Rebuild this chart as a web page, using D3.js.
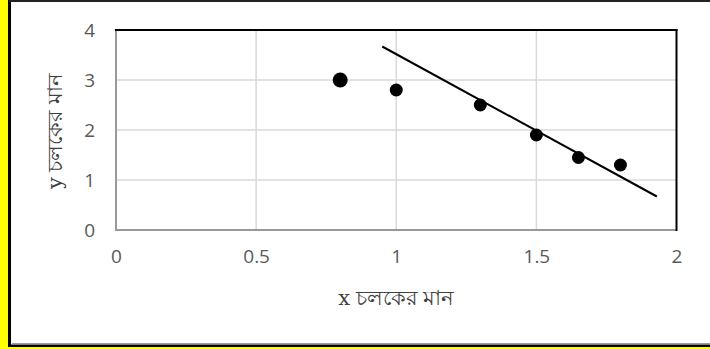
<!DOCTYPE html>
<html><head><meta charset="utf-8">
<script src="https://cdn.jsdelivr.net/npm/d3@7"></script>
<style>html,body{margin:0;padding:0;background:#ffff00;overflow:hidden;}</style>
</head><body>
<script>
// data
const xValues = [0.8, 1.0, 1.3, 1.5, 1.65, 1.8];
const yValues = [3.0, 2.8, 2.5, 1.9, 1.45, 1.3];
const pointSizes = [7.5, 6.5, 6.5, 6.5, 6.5, 6.5];
const trendX = [0.95, 1.93];
const trendY = [3.67, 0.67];
const xTicks = [0, 0.5, 1, 1.5, 2];
const yTicks = [0, 1, 2, 3, 4];
const xLabel = "চলকের মান";
const yLabel = "চলকের মান";

const W = 710, H = 349;
const svg = d3.select("body").append("svg").attr("width", W).attr("height", H);

// outer frame
svg.append("rect").attr("x", 9).attr("y", 0).attr("width", W).attr("height", 346.5).attr("fill", "#fff");
svg.append("line").attr("x1", 9.5).attr("x2", 9.5).attr("y1", 0).attr("y2", 347).attr("stroke", "#000").attr("stroke-width", 3);
svg.append("line").attr("x1", 8).attr("x2", W).attr("y1", 345.8).attr("y2", 345.8).attr("stroke", "#000").attr("stroke-width", 2.5);
svg.append("line").attr("x1", 12).attr("x2", W).attr("y1", 343.5).attr("y2", 343.5).attr("stroke", "#999").attr("stroke-width", 1);
svg.append("line").attr("x1", 9).attr("x2", W).attr("y1", 1).attr("y2", 1).attr("stroke", "#222").attr("stroke-width", 2);

const L = 116, R = 676.5, T = 30, B = 230;
const x = d3.scaleLinear().domain([0, 2]).range([L, R]);
const y = d3.scaleLinear().domain([0, 4]).range([B, T]);

// gridlines
const g = svg.append("g");
g.selectAll("line.gx").data(xTicks.slice(1, -1)).enter().append("line")
  .attr("x1", d => x(d)).attr("x2", d => x(d)).attr("y1", T).attr("y2", B)
  .attr("stroke", "#d9d9d9").attr("stroke-width", 1.5);
g.selectAll("line.gy").data(yTicks.slice(1, -1)).enter().append("line")
  .attr("x1", L).attr("x2", R).attr("y1", d => y(d)).attr("y2", d => y(d))
  .attr("stroke", "#d9d9d9").attr("stroke-width", 1.5);

// plot border
svg.append("line").attr("x1", L).attr("x2", L).attr("y1", T - 1).attr("y2", B + 1).attr("stroke", "#999").attr("stroke-width", 2);
svg.append("line").attr("x1", L - 1).attr("x2", R).attr("y1", B).attr("y2", B).attr("stroke", "#999").attr("stroke-width", 2);
svg.append("line").attr("x1", L - 1).attr("x2", R + 1).attr("y1", T).attr("y2", T).attr("stroke", "#000").attr("stroke-width", 2);
svg.append("line").attr("x1", R).attr("x2", R).attr("y1", T - 1).attr("y2", B + 1).attr("stroke", "#000").attr("stroke-width", 2);

// axes tick labels
const tickFont = "'Open Sans', Lato, sans-serif";
const xAxis = d3.axisBottom(x).tickValues(xTicks).tickSize(0).tickPadding(0).tickFormat(d3.format("~g"));
const ax = svg.append("g").attr("transform", `translate(0,${B + 23})`).call(xAxis);
ax.select(".domain").remove();
ax.selectAll("text").attr("font-family", tickFont).attr("font-size", 19).attr("fill", "#595959").attr("dy", "0.5em");

const yAxis = d3.axisLeft(y).tickValues(yTicks).tickSize(0).tickPadding(0).tickFormat(d3.format("~g"));
const ay = svg.append("g").attr("transform", `translate(${L - 21},0)`).call(yAxis);
ay.select(".domain").remove();
ay.selectAll("text").attr("font-family", tickFont).attr("font-size", 19).attr("fill", "#595959").attr("dy", "0.36em");

// trendline
svg.append("path").datum(d3.zip(trendX, trendY))
  .attr("d", d3.line().x(d => x(d[0])).y(d => y(d[1])))
  .attr("stroke", "#000").attr("stroke-width", 2).attr("fill", "none");

// points
svg.selectAll("circle.pt").data(d3.zip(xValues, yValues, pointSizes)).enter().append("circle")
  .attr("cx", d => x(d[0])).attr("cy", d => y(d[1])).attr("r", d => d[2]).attr("fill", "#000");

// axis titles
const xt = svg.append("text").attr("x", (L + R) / 2).attr("y", 305).attr("text-anchor", "middle").attr("fill", "#404040");
xt.append("tspan").text("x").attr("font-family", "'DejaVu Serif', serif").attr("font-size", 21);
xt.append("tspan").text(" " + xLabel).attr("font-family", "'Noto Sans', sans-serif").attr("font-size", 21);

const yt = svg.append("text").attr("transform", `translate(62,${(T + B) / 2 + 1}) rotate(-90)`).attr("text-anchor", "middle").attr("fill", "#404040");
yt.append("tspan").text("y").attr("font-family", "'DejaVu Serif', serif").attr("font-size", 21);
yt.append("tspan").text(" " + yLabel).attr("font-family", "'Noto Sans', sans-serif").attr("font-size", 21);
</script>
</body></html>
